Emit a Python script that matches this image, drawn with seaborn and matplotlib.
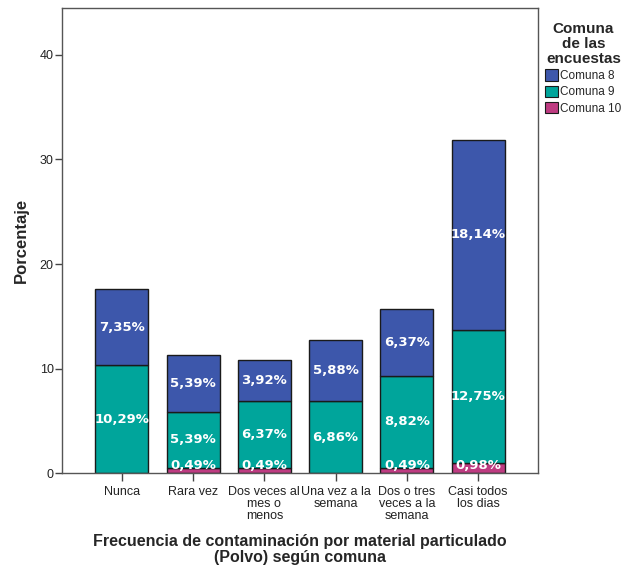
import matplotlib
matplotlib.use("Agg")
import matplotlib.pyplot as plt
from matplotlib.patches import Patch
import seaborn as sns
import numpy as np

categories = ["Nunca", "Rara vez", "Dos veces al\nmes o\nmenos", "Una vez a la\nsemana",
              "Dos o tres\nveces a la\nsemana", "Casi todos\nlos dias"]
comuna_10 = [0.00, 0.49, 0.49, 0.00, 0.49, 0.98]
comuna_9 = [10.29, 5.39, 6.37, 6.86, 8.82, 12.75]
comuna_8 = [7.35, 5.39, 3.92, 5.88, 6.37, 18.14]
series_names = ["Comuna 8", "Comuna 9", "Comuna 10"]
colors = {"Comuna 8": "#3D57AB", "Comuna 9": "#00A59B", "Comuna 10": "#BE3B81"}

sns.set_theme(style="white")
plt.rcParams["font.family"] = ["Liberation Sans", "DejaVu Sans"]

fig = plt.figure(figsize=(6.21, 5.69), dpi=100)
ax = fig.add_axes([0.0998, 0.1687, 0.7665, 0.8173])

x_idx = list(range(len(categories)))
b10 = np.zeros(len(categories))
b9 = b10 + np.array(comuna_10)
b8 = b9 + np.array(comuna_9)

edge = dict(edgecolor="#1a1a1a", linewidth=1.0, width=0.745)
for vals, base, name in [(comuna_10, b10, "Comuna 10"),
                         (comuna_9, b9, "Comuna 9"),
                         (comuna_8, b8, "Comuna 8")]:
    sns.barplot(x=x_idx, y=vals, bottom=base, color=colors[name], ax=ax,
                saturation=1, native_scale=False, **edge)

def fmt(v):
    return f"{v:.2f}".replace(".", ",") + "%"

label_kw = dict(ha="center", va="center", color="white", fontsize=9.5,
                fontweight="bold", family="DejaVu Sans")
for i in x_idx:
    if comuna_8[i] > 0:
        ax.text(i, b8[i] + comuna_8[i] / 2, fmt(comuna_8[i]), **label_kw)
    if comuna_9[i] > 0:
        ax.text(i, b9[i] + comuna_9[i] / 2, fmt(comuna_9[i]), **label_kw)
    if comuna_10[i] > 0:
        ax.text(i, max(comuna_10[i] / 2, 0.75), fmt(comuna_10[i]), **label_kw)

ax.set_xlim(-0.84, 5.84)
ax.set_ylim(0, 44.5)
ax.set_yticks([0, 10, 20, 30, 40])
ax.set_xticks(x_idx)
ax.set_xticklabels(categories, fontsize=9, color="#222222", linespacing=1.0)
ax.tick_params(axis="y", labelsize=9, labelcolor="#222222", length=5, width=1,
               color="#444444", direction="out", left=True, pad=1)
ax.tick_params(axis="x", length=6, width=1, color="#444444", direction="out",
               bottom=True, pad=3)
for s in ax.spines.values():
    s.set_color("#555555")
    s.set_linewidth(1.0)

ax.set_ylabel("Porcentaje", fontsize=12, fontweight="bold", labelpad=8)
ax.set_xlabel("Frecuencia de contaminación por material particulado\n(Polvo) según comuna",
              fontsize=11.5, fontweight="bold", labelpad=9, linespacing=1.05)

handles = [Patch(facecolor=colors[n], edgecolor="#1a1a1a", linewidth=0.8) for n in series_names]
leg = fig.legend(handles, series_names, title="Comuna\nde las\nencuestas",
                 loc="upper left", bbox_to_anchor=(0.874, 0.966), frameon=False,
                 fontsize=8.5, handlelength=1.1, handleheight=1.1, handletextpad=0.2,
                 labelspacing=0.3, borderpad=0.2, borderaxespad=0)
leg.get_title().set_fontweight("bold")
leg.get_title().set_fontsize(11)
leg.get_title().set_multialignment("center")
leg.get_title().set_linespacing(1.1)
leg._legend_box.align = "center"

fig.savefig("out.png", dpi=100)
